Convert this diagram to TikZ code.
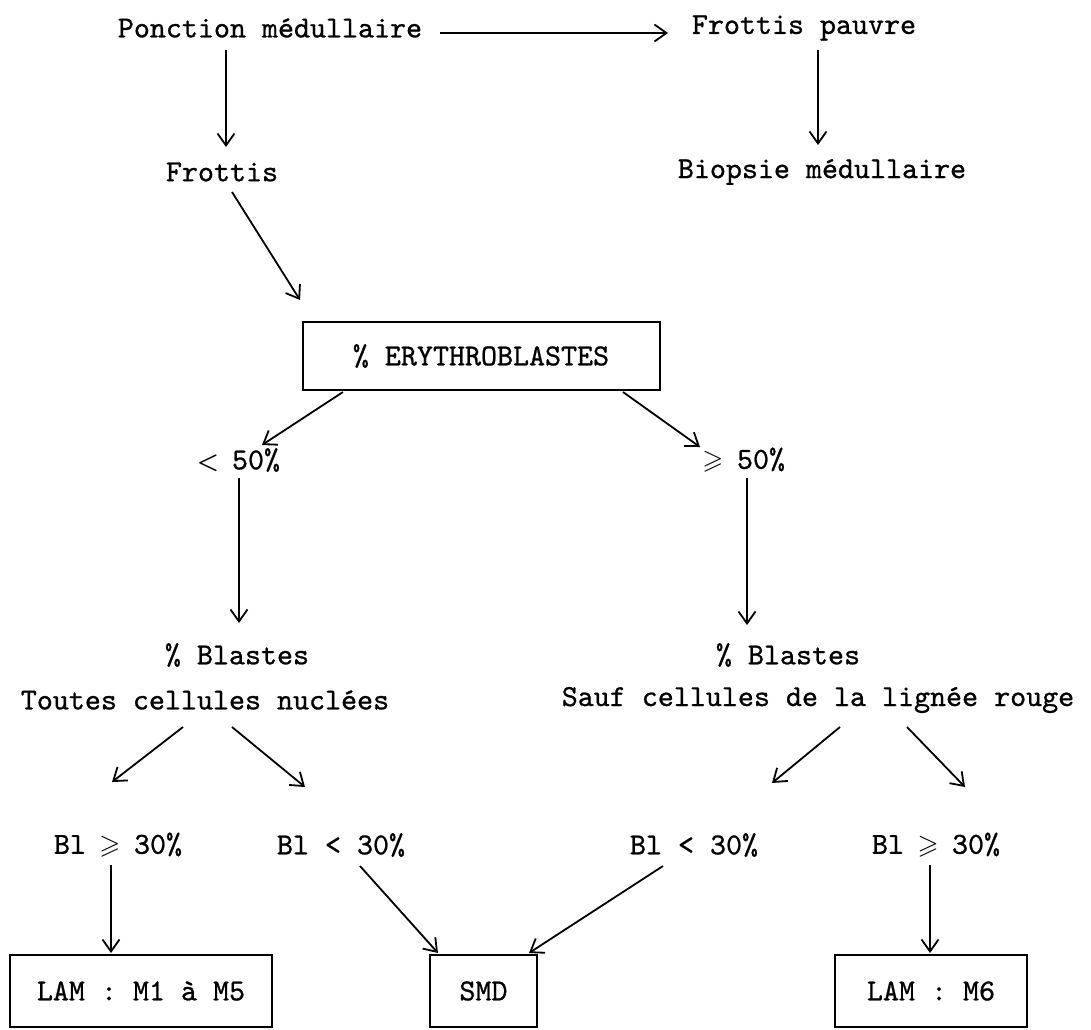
\documentclass[tikz,border=0pt]{standalone}
\usepackage{amssymb}
\usepackage{fontspec}
\setmonofont{lmmono10-regular.otf}[FakeBold=0.8]
\usetikzlibrary{arrows.meta}
% one-cell comparison signs for the typewriter text
\newcommand\geqcell{\makebox[0.525em]{\fontsize{27}{27}\selectfont\boldmath$\geqslant$}}
\newcommand\ltbold{\makebox[0.525em]{\fontsize{28}{28}\selectfont\boldmath$<$}}
\begin{document}
\begin{tikzpicture}[x=1pt,y=-1pt,
  every node/.style={font=\fontsize{30.5}{34}\selectfont\ttfamily, inner sep=0pt},
  framed/.style={draw, line width=2pt, minimum height=72pt},
  arr/.style={line width=1.8pt, -{Straight Barb[length=12pt,width=17pt,line width=1.8pt]}}]
\useasboundingbox (0,0) rectangle (1091,1029);

% --- nodes ---
\node (pm) at (270,28) {Ponction médullaire};
\node (fp) at (804,28) {Frottis pauvre};
\node (fr) at (222,172) {Frottis};
\node (bm) at (822,172) {Biopsie médullaire};
\node[framed, minimum width=357pt, minimum height=68pt] (ery) at (481,356) {\% ERYTHROBLASTES};
\node (lt) at (240,460) {\ltbold{} 50\%};
\node (ge) at (745,460) {\geqcell{} 50\%};
\node (bla) at (237,655) {\% Blastes};
\node (blb) at (788,655) {\% Blastes};
\node (tc) at (205,700) {Toutes cellules nuclées};
\node (sc) at (818,700) {Sauf cellules de la lignée rouge};
\node (b1) at (118,845) {Bl \geqcell{} 30\%};
\node (b2) at (341,845) {Bl < 30\%};
\node (b3) at (694,845) {Bl < 30\%};
\node (b4) at (936,845) {Bl \geqcell{} 30\%};
\node[framed, minimum width=262pt] (lam) at (141,991) {LAM : M1 à M5};
\node[framed, minimum width=107pt] (smd) at (483.5,991) {SMD};
\node[framed, minimum width=192pt] (m6) at (931,991) {LAM : M6};

% --- connectors ---
\draw[arr] ([shift={(170,5)}]pm.center) -- ([shift={(-136,5)}]fp.center);
\draw[arr] ([shift={(-44,22)}]pm.center) -- ([shift={(4,-25)}]fr.center);
\draw[arr] ([shift={(14,22)}]fp.center) -- ([shift={(-4,-27)}]bm.center);
\draw[arr] ([shift={(10,20)}]fr.center) -- ([shift={(-181,-56)}]ery.center);
\draw[arr] ([shift={(-138,36)}]ery.center) -- ([shift={(22,-15)}]lt.center);
\draw[arr] ([shift={(142,36)}]ery.center) -- ([shift={(-45,-13)}]ge.center);
\draw[arr] ([shift={(-1,18)}]lt.center) -- ([shift={(2,-32)}]bla.center);
\draw[arr] ([shift={(2,18)}]ge.center) -- ([shift={(-41,-30)}]blb.center);
\draw[arr] ([shift={(-22,27)}]tc.center) -- ([shift={(-6,-63)}]b1.center);
\draw[arr] ([shift={(27,27)}]tc.center) -- ([shift={(-36,-58)}]b2.center);
\draw[arr] ([shift={(22,27)}]sc.center) -- ([shift={(78,-62)}]b3.center);
\draw[arr] ([shift={(89,27)}]sc.center) -- ([shift={(29,-58)}]b4.center);
\draw[arr] ([shift={(-7,20)}]b1.center) -- ([shift={(-30,-38)}]lam.center);
\draw[arr] ([shift={(19,21)}]b2.center) -- ([shift={(-45.5,-38)}]smd.center);
\draw[arr] ([shift={(-31,21)}]b3.center) -- ([shift={(45.5,-38)}]smd.center);
\draw[arr] ([shift={(-6,20)}]b4.center) -- ([shift={(-1,-38)}]m6.center);
\end{tikzpicture}
\end{document}
